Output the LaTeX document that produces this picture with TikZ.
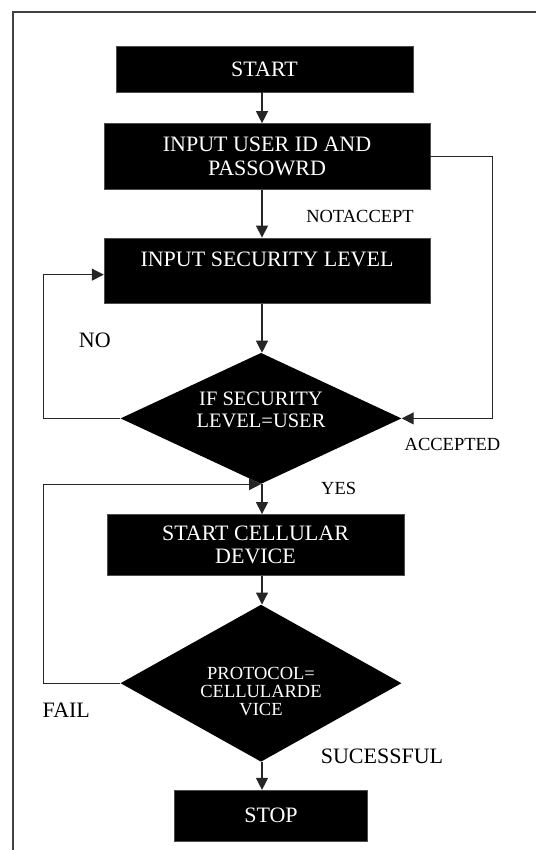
\documentclass[tikz,border=0pt]{standalone}
\usepackage{fontspec}
\setmainfont{Liberation Serif}
\usetikzlibrary{shapes.geometric, arrows.meta, positioning}

\begin{document}
\begin{tikzpicture}[
    x=1pt, y=-1pt,
    box/.style={rectangle, fill=black, draw=black!70, text=white, inner sep=0pt,
                align=center, font=\fontsize{22}{23.5}\selectfont},
    decision/.style={diamond, fill=black, text=white, inner sep=0pt, align=center},
    lbl/.style={inner sep=0pt, font=\fontsize{18.5}{20}\selectfont},
    arr/.style={-{Triangle[length=12pt, width=12pt]}, line width=1.2pt, black!85},
    frame/.style={line width=2pt, black!75},
  ]
  \useasboundingbox (0,0) rectangle (536,850);
  \draw[frame] (536,12) -| (12.5,850);
  \coordinate (spine) at (262,0);

  \node[box, minimum width=297pt, minimum height=46pt] (start) at (264.5,69) {START};
  \node[box, minimum width=326pt, minimum height=66pt, below=31pt of start, xshift=2.5pt] (userid) {INPUT USER ID AND\\PASSOWRD};
  \node[box, minimum width=326pt, text height=28.7pt, text depth=37pt, below=48pt of userid] (seclevel) {INPUT SECURITY LEVEL};
  \node[decision, aspect=2.15, minimum width=281pt, minimum height=131pt, below=49pt of seclevel, xshift=-6pt,
        font=\fontsize{20.5}{22.3}\selectfont, text height=36pt, text depth=17.6pt] (checklevel) {IF SECURITY\\LEVEL=USER};
  \node[box, minimum width=297pt, minimum height=61pt, below=30pt of checklevel, xshift=-5.5pt] (cellular) {START CELLULAR\\DEVICE};
  \node[decision, aspect=1.8, minimum width=281pt, minimum height=157pt, below=29pt of cellular, xshift=5.5pt,
        font=\fontsize{18.5}{18}\selectfont, text height=65pt, text depth=0pt] (checkproto) {PROTOCOL=\\CELLULARDE\\VICE};
  \node[box, minimum width=193pt, minimum height=51pt, below=28pt of checkproto, xshift=10pt] (stop) {STOP};

  % branch labels
  \node[lbl] (notaccept) at (360,216) {NOTACCEPT};
  \node[lbl, font=\fontsize{22}{24}\selectfont] (no) at (94.8,340.7) {NO};
  \node[lbl] (accepted) at (452.5,444.3) {ACCEPTED};
  \node[lbl] (yes) at (338.7,488.3) {YES};
  \node[lbl, font=\fontsize{22}{24}\selectfont] (fail) at (66.3,710) {FAIL};
  \node[lbl, font=\fontsize{22}{24}\selectfont] (success) at (382,756) {SUCESSFUL};

  \draw[arr] (start.south -| spine) -- (userid.north -| spine);
  \draw[arr] (userid.south -| spine) -- (seclevel.north -| spine);
  \draw[arr] (seclevel.south -| spine) -- (checklevel.north -| spine);
  \draw[arr] (checklevel.south -| spine) -- (cellular.north -| spine);
  \draw[arr] (cellular.south -| spine) -- (checkproto.north -| spine);
  \draw[arr] (checkproto.south -| spine) -- (stop.north -| spine);
  \draw[arr] (userid.east) -- ++(62,0) |- (checklevel.east);
  \draw[arr] (checklevel.west) -- ++(-76.5,0) |- ([yshift=-4pt]seclevel.west);
  \draw[arr] (checkproto.west) -- ++(-76.5,0) |- (checklevel.south);
\end{tikzpicture}
\end{document}
